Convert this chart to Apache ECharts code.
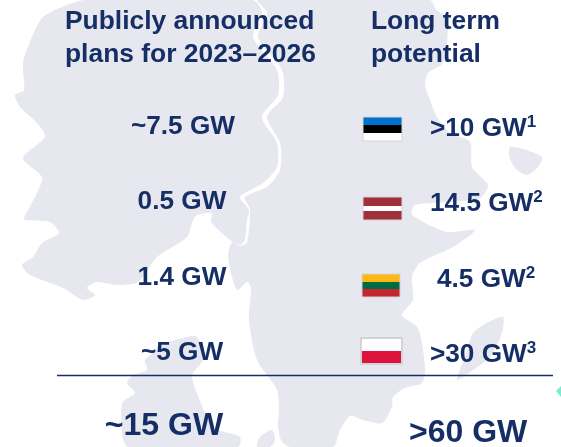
<!DOCTYPE html>
<html>
<head>
<meta charset="utf-8" />
<style>
  html, body { margin: 0; padding: 0; background: #fff; }
  #main { width: 561px; height: 447px; }
</style>
<script src="https://cdn.jsdelivr.net/npm/echarts@6/dist/echarts.min.js"></script>
</head>
<body>
<div id="main"></div>
<script>
// values
const countries = ["Estonia", "Latvia", "Lithuania", "Poland", "Total"];
const announced = ["~7.5 GW", "0.5 GW", "1.4 GW", "~5 GW", "~15 GW"];
const potential = [">10 GW", "14.5 GW", "4.5 GW", ">30 GW", ">60 GW"];
const footnotes = ["1", "2", "2", "3", ""];
const flagStripes = [
  ["#0072ce", "#000000", "#ffffff"],
  ["#9e3039", "#9e3039", "#ffffff", "#9e3039", "#9e3039"],
  ["#fdb913", "#006a44", "#c1272d"],
  ["#ffffff", "#dc143c"]
];

// layout only (px)
const INK = "#152f66";
const LAND = "#e7e8ef";
const announcedX = 182;
const potentialX = 430;
const flagX = 382;
const announcedOffset = [[1, 3], [0, 3], [0, 4], [0, 4], [-18, 2]];
const potentialOffset = [[0, 5], [0, 5], [7, 6], [0, 6], [-21, 9]];
const flagOffset = [[0, 5], [0, 9.5], [-1.5, 11.5], [-1, 1.5]];
const flagSize = [[39, 24], [39, 23], [38, 23], [41, 26]];

// background map, decorative
const west = [[85,0],[67,5],[43,17],[32,37],[23,63],[24,90],[15,95],[20,107],[37,123],[45,137],[23,158],[42,177],[37,193],[24,218],[25,220],[50,222],[59,233],[42,243],[33,257],[22,265],[30,275],[63,288],[83,300],[95,295],[87,288],[97,282],[117,285],[138,282],[157,257],[187,237],[193,220],[197,215],[212,213],[211,222],[230,240],[240,245],[245,240],[247,220],[249,210],[240,197],[263,183],[277,167],[277,143],[262,117],[278,95],[277,70],[253,37],[262,13],[253,0]];
const east = [[258,0],[267,13],[258,37],[282,70],[283,97],[267,117],[280,143],[280,170],[267,187],[245,197],[250,210],[247,242],[240,246],[232,242],[228,257],[237,290],[247,282],[251,288],[249,320],[257,360],[277,390],[279,410],[278,425],[281,440],[290,447],[333,447],[340,430],[350,416],[363,420],[382,423],[392,407],[393,397],[405,388],[422,383],[425,367],[418,328],[402,315],[413,300],[412,277],[420,263],[453,247],[475,230],[447,232],[412,215],[415,205],[450,202],[480,198],[488,185],[472,167],[470,142],[450,133],[437,117],[430,100],[425,85],[428,73],[443,63],[447,43],[447,20],[435,8],[430,0]];
const south = [[187,337],[197,337],[203,360],[192,375],[197,393],[213,427],[240,437],[238,447],[128,447],[122,403],[135,393],[127,383],[133,375],[147,370],[145,360],[167,343]];
const pocket = [[257,447],[260,437],[272,430],[275,440],[270,447]];
const islandA = [[510,147],[520,148],[542,157],[538,167],[527,175],[515,168],[509,155]];
const islandB = [[503,317],[487,323],[473,333],[465,357],[457,380],[473,370],[490,357],[502,333]];

const chart = echarts.init(document.getElementById("main"));

function landShape(points) {
  return {
    type: "polygon",
    z: -10,
    silent: true,
    shape: { points: points, smooth: 0.25 },
    style: { fill: LAND }
  };
}

function potentialText(i) {
  const sup = footnotes[i] ? "{s|" + footnotes[i] + "}" : "";
  const cls = i === 4 ? "b" : "a";
  return "{" + cls + "|" + potential[i] + "}" + sup;
}

chart.setOption({
  animation: false,
  title: [
    {
      text: "Publicly announced\nplans for 2023–2026",
      left: 65,
      top: 5,
      padding: 0,
      textStyle: { color: INK, fontFamily: "Liberation Sans", fontWeight: "bold", fontSize: 26.4, lineHeight: 33 }
    },
    {
      text: "Long term\npotential",
      left: 371,
      top: 5,
      padding: 0,
      textStyle: { color: INK, fontFamily: "Liberation Sans", fontWeight: "bold", fontSize: 26.4, lineHeight: 33 }
    }
  ],
  grid: { left: 0, width: 561, top: 86.5, height: 375, outerBoundsMode: "none" },
  xAxis: { type: "value", min: 0, max: 561, show: false },
  yAxis: { type: "category", inverse: true, data: countries, show: false },
  graphic: [
    landShape(west),
    landShape(east),
    landShape(south),
    landShape(pocket),
    landShape(islandA),
    landShape(islandB),
    {
      type: "line",
      silent: true,
      z: 1,
      shape: { x1: 57, y1: 375.5, x2: 553, y2: 375.5 },
      style: { stroke: INK, lineWidth: 1.5 }
    },
    {
      type: "polygon",
      silent: true,
      z: 1,
      shape: { points: [[556, 391], [561, 386], [561, 397]] },
      style: { fill: "#7fe8d5" }
    }
  ],
  series: [
    {
      name: "Publicly announced",
      type: "scatter",
      symbolSize: 0,
      silent: true,
      itemStyle: { opacity: 1 },
      data: announced.map(function (t, i) {
        return {
          value: [announcedX, countries[i]],
          label: {
            show: true,
            position: "inside",
            formatter: t,
            offset: announcedOffset[i],
            color: INK,
            fontFamily: "Liberation Sans",
            fontWeight: "bold",
            fontSize: i === 4 ? 32 : 26.2
          }
        };
      })
    },
    {
      name: "Long term potential",
      type: "scatter",
      symbolSize: 0,
      silent: true,
      itemStyle: { opacity: 1 },
      data: potential.map(function (t, i) {
        return {
          value: [potentialX, countries[i]],
          label: {
            show: true,
            position: "inside",
            align: "left",
            formatter: potentialText(i),
            offset: potentialOffset[i],
            rich: {
              a: { color: INK, fontFamily: "Liberation Sans", fontWeight: "bold", fontSize: 26.2, lineHeight: 30 },
              b: { color: INK, fontFamily: "Liberation Sans", fontWeight: "bold", fontSize: 32, lineHeight: 36 },
              s: { color: INK, fontFamily: "Liberation Sans", fontWeight: "bold", fontSize: 17, lineHeight: 30, verticalAlign: "top" }
            }
          }
        };
      })
    },
    {
      name: "Flags",
      type: "custom",
      silent: true,
      data: flagStripes.map(function (s, i) {
        return [flagX, countries[i], i];
      }),
      renderItem: function (params, api) {
        const i = api.value(2);
        const p = api.coord([flagX, countries[i]]);
        const w = flagSize[i][0];
        const h = flagSize[i][1];
        const x = Math.round(p[0] + flagOffset[i][0] - w / 2);
        const y = Math.round(p[1] + flagOffset[i][1] - h / 2);
        const stripes = flagStripes[i];
        const children = stripes.map(function (c, k) {
          const y0 = Math.round(y + (k * h) / stripes.length);
          const y1 = Math.round(y + ((k + 1) * h) / stripes.length);
          return {
            type: "rect",
            shape: { x: x, y: y0, width: w, height: y1 - y0 },
            style: { fill: c }
          };
        });
        children.push({
          type: "rect",
          shape: { x: x, y: y, width: w, height: h },
          style: { fill: "none", stroke: "#d2d3d6", lineWidth: i === 3 ? 2 : 1 }
        });
        return { type: "group", children: children };
      }
    }
  ]
});
</script>
</body>
</html>
